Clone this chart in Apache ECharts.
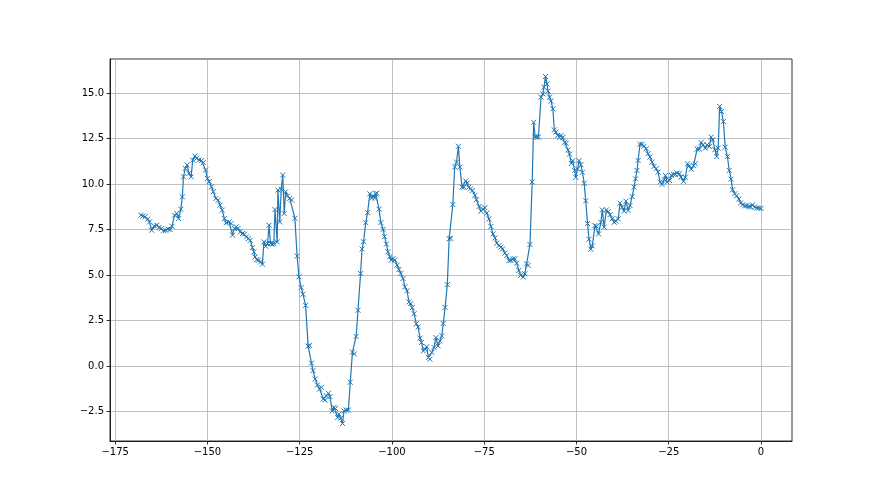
<!DOCTYPE html>
<html>
<head>
<meta charset="utf-8">
<script src="https://cdn.jsdelivr.net/npm/echarts@6/dist/echarts.min.js"></script>
<style>
  html, body { margin: 0; padding: 0; background: #fff; }
  #chart { width: 880px; height: 495px; }
</style>
</head>
<body>
<div id="chart"></div>
<script>
// x 坐标
const xValues = [
  -168.0, -167.5, -166.9, -166.2, -165.7, -165.1, -164.4, -163.7, -163.1, -162.5,
  -161.9, -161.3, -160.7, -160.1, -159.6, -158.9, -158.3, -157.8, -157.2, -156.8,
  -156.5, -156.0, -155.5, -155.0, -154.4, -154.0, -153.4, -152.9, -152.3, -151.6,
  -151.1, -150.5, -150.0, -149.5, -148.9, -148.4, -147.7, -147.1, -146.6, -146.0,
  -145.4, -144.9, -144.1, -143.6, -143.2, -142.7, -142.2, -141.7, -141.1, -140.5,
  -140.0, -139.4, -138.9, -138.4, -137.8, -137.4, -137.1, -136.6, -136.2, -135.6,
  -135.1, -134.7, -134.2, -133.7, -133.3, -132.9, -132.4, -132.0, -131.7, -131.1,
  -130.9, -130.4, -130.0, -129.6, -129.2, -128.8, -128.3, -127.7, -127.2,
  -126.3, -125.7, -125.2, -124.6, -124.1, -123.4, -122.7, -122.3, -121.8, -121.4,
  -120.8, -120.2, -119.6, -119.1, -118.6, -118.1, -117.8, -117.2, -116.8, -116.2,
  -115.7, -115.3, -114.7, -114.4, -113.9, -113.4, -113.0, -112.4, -111.8, -111.3,
  -110.7, -110.2, -109.7, -109.2,
  -108.5, -108.1, -107.7, -107.1, -106.6, -106.0, -105.5, -105.1, -104.7, -104.4,
  -104.1, -103.5, -103.0, -102.4, -102.0, -101.5, -101.1, -100.6, -100.2, -99.7,
  -99.2, -98.6, -98.1, -97.6, -97.0, -96.5, -95.9, -95.4, -94.9, -94.5,
  -94.0, -93.4, -92.9,
  -92.4, -92.0, -91.5, -91.1, -90.6, -90.1, -89.7, -89.2, -88.6, -88.1,
  -87.5, -87.0, -86.5, -86.1, -85.6, -85.0, -84.5, -84.1, -83.5, -83.0,
  -82.5, -82.0, -81.6, -81.0, -80.5, -80.0, -79.6, -79.2, -78.7, -78.2,
  -77.5, -77.1,
  -76.4, -75.9, -75.3, -74.8, -74.3, -73.7, -73.2, -72.6, -72.1, -71.6,
  -71.0, -70.5, -70.0, -69.4, -68.9, -68.3, -67.8, -67.2, -66.7, -66.2,
  -65.6, -65.1, -64.4, -64.0, -63.5, -63.1, -62.6, -62.0, -61.6, -61.2,
  -60.7, -60.3,
  -59.6, -59.1, -58.8, -58.4, -58.0, -57.7, -57.3, -56.9, -56.4, -56.0,
  -55.6, -55.1, -54.6, -54.2, -53.7, -53.2, -52.8, -52.3, -51.9, -51.4,
  -51.0, -50.5, -50.2, -49.7, -49.3, -48.8, -48.4, -47.9, -47.5, -47.0,
  -46.6, -46.1, -45.7,
  -45.0, -44.6, -44.0, -43.4, -43.0, -42.5, -41.9, -41.4, -40.9, -40.3,
  -39.8, -39.3, -38.7, -38.2, -37.6, -37.1, -36.6, -36.0, -35.5, -34.9,
  -34.4, -34.0, -33.6, -33.3, -32.8, -32.2, -31.7, -31.1, -30.6, -30.1,
  -29.5, -29.0, -28.4, -27.9, -27.3, -26.8, -26.2, -25.9, -25.4, -24.8,
  -24.3, -23.7, -23.2, -22.7, -22.1,
  -21.7, -21.0, -20.5, -19.9, -19.4, -18.9, -18.3, -17.8, -17.3, -16.7,
  -16.2, -15.7, -15.1, -14.6, -14.0, -13.5, -13.1, -12.5, -12.0, -11.6,
  -11.2, -10.7, -10.2, -9.7, -9.1, -8.6, -8.1, -7.7, -7.1, -6.6,
  -6.0, -5.5, -5.0, -4.4, -3.9, -3.3, -2.8, -2.3, -1.7, -1.2,
  -0.6, 0.0
];

// y 值
const yValues = [
  8.29, 8.24, 8.20, 8.07, 7.92, 7.46, 7.70, 7.74, 7.61, 7.55,
  7.43, 7.46, 7.52, 7.50, 7.68, 8.29, 8.38, 8.10, 8.62, 9.30,
  10.40, 10.86, 11.05, 10.59, 10.40, 11.32, 11.54, 11.42, 11.32, 11.29,
  11.18, 10.77, 10.31, 10.13, 9.85, 9.58, 9.21, 9.12, 8.84, 8.57,
  8.10, 7.87, 7.92, 7.83, 7.19, 7.56, 7.65, 7.56, 7.37, 7.28,
  7.24, 7.10, 7.00, 6.91, 6.51, 6.27, 5.99, 5.85, 5.81, 5.72,
  5.59, 6.82, 6.58, 6.73, 7.74, 6.73, 6.69, 6.73, 8.60, 6.82,
  9.67, 7.92, 9.71, 10.50, 8.38, 9.58, 9.34, 9.21, 9.12,
  8.12, 6.04, 4.90, 4.31, 3.94, 3.33, 1.09, 1.12, 0.15, -0.26,
  -0.72, -1.05, -1.27, -1.18, -1.82, -1.88, -1.64, -1.51, -1.69, -2.47,
  -2.28, -2.34, -2.84, -2.65, -2.87, -3.17, -2.47, -2.43, -2.43, -0.90,
  0.76, 0.66, 1.62, 3.06,
  5.08, 6.43, 6.83, 7.88, 8.43, 9.47, 9.23, 9.36, 9.23, 9.47,
  9.50, 8.62, 7.88, 7.51, 7.11, 6.70, 6.28, 6.00, 5.82, 5.91,
  5.82, 5.54, 5.30, 5.08, 4.81, 4.35, 4.13, 3.52, 3.43, 3.20,
  2.87, 2.32, 2.14,
  1.53, 1.29, 0.83, 0.92, 1.05, 0.46, 0.37, 0.74, 1.01, 1.56,
  1.10, 1.38, 1.65, 2.33, 3.22, 4.47, 6.99, 7.02, 8.88, 10.94,
  11.21, 12.08, 10.94, 9.83, 9.83, 10.17, 10.06, 9.83, 9.74, 9.65,
  9.38, 9.14,
  8.77, 8.51, 8.64, 8.70, 8.40, 8.09, 7.67, 7.26, 7.04, 6.75,
  6.62, 6.53, 6.44, 6.20, 6.07, 5.80, 5.80, 5.89, 5.89, 5.65,
  5.25, 4.98, 4.89, 5.07, 5.62, 5.53, 6.68, 10.12, 13.40, 12.60,
  12.56, 12.60,
  14.78, 14.96, 15.33, 15.92, 15.51, 15.11, 14.78, 14.56, 14.14, 12.98,
  12.85, 12.67, 12.57, 12.67, 12.57, 12.30, 12.24, 11.88, 11.65, 11.14,
  11.29, 10.74, 10.37, 10.83, 11.29, 11.07, 10.65, 10.04, 9.08, 7.83,
  6.97, 6.42, 6.60,
  7.72, 7.68, 7.26, 7.90, 8.58, 7.63, 8.58, 8.49, 8.32, 8.09,
  7.90, 7.96, 8.09, 8.95, 8.73, 8.51, 9.06, 8.55, 8.82, 9.32,
  9.83, 10.29, 10.75, 11.30, 12.19, 12.19, 12.08, 11.95, 11.67, 11.49,
  11.21, 10.97, 10.85, 10.66, 10.11, 9.98, 10.24, 10.48, 10.11, 10.20,
  10.48, 10.53, 10.53, 10.61, 10.57,
  10.38, 10.15, 10.38, 11.12, 11.01, 10.82, 11.01, 11.12, 11.92, 11.92,
  12.29, 12.16, 11.98, 12.16, 12.07, 12.58, 12.44, 11.89, 11.52, 11.98,
  14.27, 13.99, 13.44, 12.03, 11.52, 10.75, 10.27, 9.69, 9.47, 9.36,
  9.18, 8.96, 8.86, 8.81, 8.81, 8.77, 8.74, 8.86, 8.74, 8.68,
  8.68, 8.66
];

// 刻度
const xTicks = [-175, -150, -125, -100, -75, -50, -25, 0];
const yTicks = [-2.5, 0, 2.5, 5, 7.5, 10, 12.5, 15];

const minus = s => s.replace('-', '\u2212');

const chart = echarts.init(document.getElementById('chart'));

const axisCommon = {
  type: 'value',
  axisLine: { show: true, onZero: false, lineStyle: { color: '#000', width: 0.8 } },
  axisTick: { show: true, length: 3.5, lineStyle: { color: '#000', width: 0.8 } },
  splitLine: { show: true, lineStyle: { color: '#b0b0b0', width: 0.8 } }
};

const option = {
  animation: false,
  backgroundColor: '#fff',
  grid: {
    left: 110,
    right: 88,
    top: 59,
    bottom: 54,
    show: true,
    borderColor: '#000',
    borderWidth: 0.8
  },
  xAxis: {
    ...axisCommon,
    min: -176.4,
    max: 8.4,
    axisTick: { ...axisCommon.axisTick, customValues: xTicks },
    axisLabel: {
      customValues: xTicks,
      color: '#000',
      fontSize: 10,
      fontFamily: 'DejaVu Sans',
      margin: 6,
      formatter: v => minus(String(v))
    }
  },
  yAxis: {
    ...axisCommon,
    min: -4.13,
    max: 16.88,
    axisTick: { ...axisCommon.axisTick, customValues: yTicks },
    axisLabel: {
      customValues: yTicks,
      color: '#000',
      fontSize: 10,
      fontFamily: 'DejaVu Sans',
      margin: 6,
      formatter: v => minus(Number(v).toFixed(1))
    }
  },
  series: [
    {
      type: 'line',
      data: xValues.map((x, i) => [x, yValues[i]]),
      showAllSymbol: true,
      symbol: 'path://M0,0L10,10M10,0L0,10',
      symbolSize: 5,
      lineStyle: { color: '#1f77b4', width: 1.2 },
      itemStyle: { color: 'none', borderColor: '#1f77b4', borderWidth: 1 },
      emphasis: { disabled: true }
    }
  ]
};

chart.setOption(option);
</script>
</body>
</html>
